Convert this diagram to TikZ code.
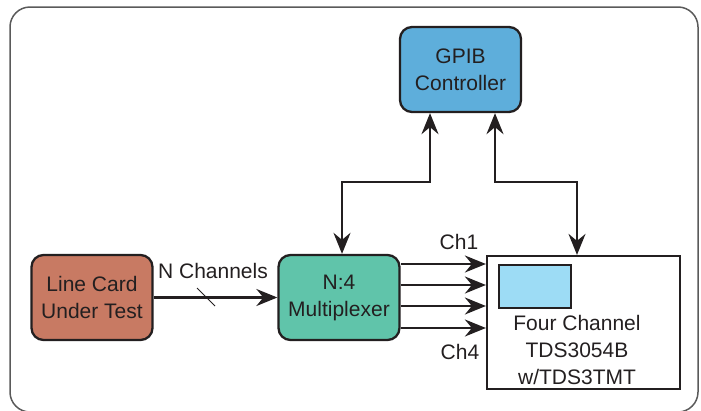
\documentclass[tikz,border=0pt]{standalone}
\usepackage{fontspec}
\setmainfont{Liberation Sans}
\usetikzlibrary{arrows.meta}
\definecolor{colorDUT}{RGB}{200,122,99}
\definecolor{colorMUX}{RGB}{96,196,170}
\definecolor{colorGPIB}{RGB}{94,174,219}
\definecolor{colorScreen}{RGB}{157,220,245}
\definecolor{colorInk}{RGB}{35,31,32}
\definecolor{colorFrame}{RGB}{90,90,90}
\tikzset{
   lbl/.style={font=\fontsize{21}{27}\selectfont,text=colorInk,align=center,inner sep=0pt},
   blk/.style={lbl,draw=colorInk,line width=2.3pt,rounded corners=12pt,
               minimum width=121pt,minimum height=85pt},
   scopebox/.style={draw=colorInk,line width=2.2pt,minimum width=193pt,minimum height=133pt},
   screen/.style={draw=colorInk,line width=2pt,fill=colorScreen,minimum width=72pt,minimum height=43pt},
   sig/.style={color=colorInk,line width=2.2pt,-{Stealth[length=21pt,width=17pt,inset=7pt]}},
   bus/.style={sig,{Stealth[length=21pt,width=17pt,inset=7pt]}-{Stealth[length=21pt,width=17pt,inset=7pt]}},
   frame/.style={draw=colorFrame,line width=1.5pt,rounded corners=20pt},
}

\begin{document}
\begin{tikzpicture}[x=1pt,y=-1pt]

        \useasboundingbox (0,0) rectangle (701,410);
        \draw[frame] (10,7) rectangle (698,412);

        \node[blk,fill=colorDUT]  (dut)  at ( 92,297.5) {Line Card\\Under Test};
        \node[blk,fill=colorMUX]  (mux)  at (339,297.5) {N:4\\Multiplexer};
        \node[blk,fill=colorGPIB] (gpib) at (460.5,69.5) {GPIB\\Controller};

        \node[scopebox] (tds) at (583.5,322.5) {};
        \node[screen]   (scr) at (535,286.5) {};
        \node[lbl]      (tdstxt) at (577,350) {Four Channel\\TDS3054B\\w/TDS3TMT};

        \coordinate (busL) at (430,182);
        \coordinate (busR) at (495,182);

        \draw[sig] (dut) -- (mux);
        \draw[color=colorInk,line width=1pt] (197,288) -- (215,306);
        \node[lbl] (nch) at (213,271) {N Channels};

        \draw[bus] (gpib.south -| busL) -- (busL) -| ([xshift=3pt]mux.north);
        \draw[bus] (gpib.south -| busR) -- (busR) -| ([xshift=-6.5pt]tds.north);

        \foreach \y in {264,285,306,328}
          \draw[sig] (mux.east |- 0,\y) -- (tds.west |- 0,\y);

        \node[lbl] (ch1) at (459,242) {Ch1};
        \node[lbl] (ch4) at (460,352) {Ch4};

\end{tikzpicture}
\end{document}
